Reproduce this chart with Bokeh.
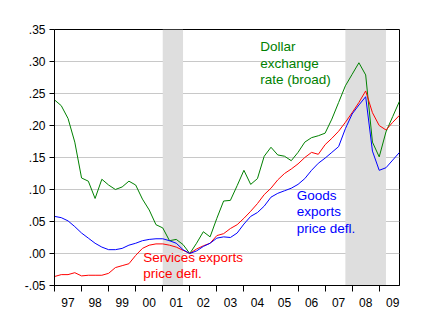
from bokeh.plotting import figure
from bokeh.models import Range1d, FixedTicker, Label, ColumnDataSource
from bokeh.embed import file_html
from bokeh.resources import INLINE

# ---- data -------------------------------------------------------------
quarters = [f"{y}Q{q}" for y in range(1997, 2010) for q in range(1, 5)]

dollar_broad = [0.240, 0.231, 0.211, 0.174, 0.118, 0.113, 0.086, 0.116, 0.107, 0.100,
                0.104, 0.113, 0.107, 0.085, 0.068, 0.045, 0.040, 0.020, 0.022, 0.014,
                0.000, 0.016, 0.034, 0.026, 0.055, 0.082, 0.083, 0.106, 0.130, 0.108,
                0.117, 0.152, 0.166, 0.154, 0.152, 0.145, 0.158, 0.174, 0.181, 0.184,
                0.188, 0.210, 0.236, 0.262, 0.280, 0.298, 0.279, 0.174, 0.151, 0.190,
                0.214, 0.238]

goods_defl = [0.058, 0.056, 0.051, 0.042, 0.032, 0.024, 0.016, 0.010, 0.006, 0.006,
              0.008, 0.013, 0.016, 0.020, 0.022, 0.023, 0.023, 0.020, 0.016, 0.006,
              0.000, 0.004, 0.011, 0.016, 0.024, 0.026, 0.025, 0.032, 0.046, 0.058,
              0.064, 0.074, 0.088, 0.094, 0.098, 0.102, 0.108, 0.117, 0.130, 0.141,
              0.149, 0.158, 0.167, 0.195, 0.218, 0.232, 0.245, 0.160, 0.130, 0.134,
              0.146, 0.158]

services_defl = [-0.036, -0.033, -0.033, -0.030, -0.035, -0.034, -0.034, -0.034, -0.031, -0.022,
                 -0.019, -0.016, -0.003, 0.008, 0.013, 0.015, 0.015, 0.013, 0.010, 0.005,
                 0.000, 0.007, 0.012, 0.016, 0.028, 0.031, 0.039, 0.045, 0.055, 0.066,
                 0.078, 0.092, 0.102, 0.115, 0.125, 0.132, 0.140, 0.150, 0.158, 0.155,
                 0.170, 0.180, 0.191, 0.205, 0.220, 0.236, 0.254, 0.220, 0.200, 0.193,
                 0.205, 0.216]

recession_start = ["2001Q1", "2007Q4"]
recession_end = ["2001Q4", "2009Q2"]

year_ticks = list(range(1997, 2010))
year_labels = ["97", "98", "99", "00", "01", "02", "03", "04", "05", "06", "07", "08", "09"]

y_ticks = [-0.05, 0.0, 0.05, 0.10, 0.15, 0.20, 0.25, 0.30, 0.35]
y_labels = ["-.05", ".00", ".05", ".10", ".15", ".20", ".25", ".30", ".35"]


def qpos(q):
    return int(q[:4]) + (int(q[5]) - 1) / 4.0


x = [qpos(q) for q in quarters]

FONT = "Liberation Sans"

p = figure(width=428, height=327, output_backend="svg", toolbar_location=None,
           x_range=Range1d(1997.0, 2009.75), y_range=Range1d(-0.05, 0.35),
           min_border_left=54, min_border_right=29, min_border_top=29, min_border_bottom=42)
p.background_fill_color = "white"
p.border_fill_color = "white"
p.outline_line_color = "black"
p.outline_line_width = 1
p.outline_line_alpha = 1.0

# recession shading
rs = ColumnDataSource(dict(left=[qpos(q) for q in recession_start],
                           right=[qpos(q) for q in recession_end]))
p.quad(left="left", right="right", bottom=-0.05, top=0.35, source=rs,
       fill_color="#dedede", line_color=None)

# lines
p.line(x, dollar_broad, line_color="#008000", line_width=1)
p.line(x, services_defl, line_color="#ff0000", line_width=1)
p.line(x, goods_defl, line_color="#0000ff", line_width=1)

# x axis: labels at mid-year, tick marks at year boundaries
xax = p.xaxis[0]
mid = [y + 0.5 for y in year_ticks]
xax.ticker = FixedTicker(ticks=mid, minor_ticks=year_ticks)
xax.major_label_overrides = {m: lab for m, lab in zip(mid, year_labels)}
xax.major_tick_out = 0
xax.major_tick_in = 0
xax.major_tick_line_color = None
xax.minor_tick_out = 6
xax.minor_tick_in = 0
xax.minor_tick_line_color = "black"
xax.axis_line_color = "black"
xax.major_label_standoff = 6
xax.major_label_text_font = FONT
xax.major_label_text_font_size = "12px"
xax.major_label_text_color = "black"

yax = p.yaxis[0]
yax.ticker = FixedTicker(ticks=y_ticks)
yax.major_label_overrides = {t: lab for t, lab in zip(y_ticks, y_labels)}
yax.major_tick_out = 5
yax.major_tick_in = 0
yax.minor_tick_line_color = None
yax.major_tick_line_color = "black"
yax.axis_line_color = "black"
yax.major_label_standoff = 4
yax.major_label_text_font = FONT
yax.major_label_text_font_size = "12px"
yax.major_label_text_color = "black"

p.xgrid.visible = False
p.ygrid.ticker = FixedTicker(ticks=y_ticks)
p.ygrid.grid_line_color = "#c8c8c8"
p.ygrid.grid_line_width = 1

# text annotations
def add_lines(lines, x0, y0, color, dy=0.0258):
    for k, t in enumerate(lines):
        p.add_layout(Label(x=x0, y=y0 - k * dy, text=t, text_color=color,
                           text_font=FONT, text_font_size="13.5px",
                           text_align="left", text_baseline="top"))

add_lines(["Dollar", "exchange", "rate (broad)"], 2004.6, 0.335, "#008000")
add_lines(["Goods", "exports", "price defl."], 2005.95, 0.103, "#0000ff")
add_lines(["Services exports", "price defl."], 2000.28, 0.006, "#ff0000")

open("out.html", "w").write(file_html(p, INLINE))
